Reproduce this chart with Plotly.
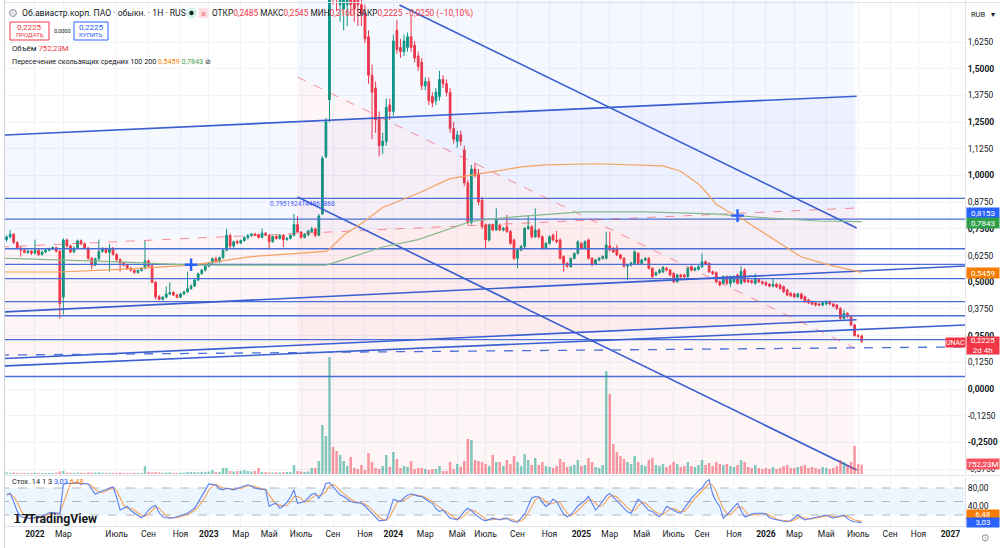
import pandas as pd
import plotly.graph_objects as go

FONT = "Roboto, 'Noto Sans', sans-serif"
TXT = "#131722"
UP = "#089981"
DN = "#f23645"
BLUE = "#2962ff"
ORANGE = "#f57c00"
GREEN = "#43a047"
LINE_BLUE = "#3a5fd0"

# ---------------- data (weekly bars) ----------------
first_week = "2021-11-08"
n_calendar_weeks = 245
closed_weeks = ["2022-02-28", "2022-03-07", "2022-03-14"]   # exchange closed, no bars

opens = [
    0.700, 0.712, 0.725, 0.686, 0.660, 0.650, 0.640, 0.646, 0.636, 0.650,
    0.630, 0.642, 0.650, 0.656, 0.662, 0.645, 0.430, 0.698, 0.670, 0.642,
    0.660, 0.694, 0.680, 0.660, 0.612, 0.580, 0.610, 0.645, 0.658, 0.640,
    0.660, 0.630, 0.606, 0.590, 0.580, 0.566, 0.556, 0.546, 0.555, 0.566,
    0.600, 0.576, 0.500, 0.432, 0.420, 0.430, 0.445, 0.452, 0.440, 0.430,
    0.445, 0.455, 0.470, 0.482, 0.510, 0.540, 0.557, 0.575, 0.590, 0.610,
    0.596, 0.615, 0.650, 0.720, 0.670, 0.690, 0.684, 0.695, 0.710, 0.720,
    0.726, 0.722, 0.710, 0.730, 0.720, 0.690, 0.715, 0.705, 0.720,
    0.700, 0.706, 0.720, 0.770, 0.735, 0.710, 0.722, 0.738, 0.750, 0.720,
    0.820, 1.088, 1.354, 2.100, 1.900, 1.800, 1.780, 1.800, 1.860, 1.840,
    1.880, 1.800, 1.760, 1.650, 1.470, 1.410, 1.270, 1.140, 1.160, 1.330,
    1.300, 1.680, 1.600, 1.580, 1.600, 1.650, 1.610, 1.560, 1.530, 1.420,
    1.440, 1.370, 1.350, 1.370, 1.450, 1.430, 1.390, 1.220, 1.160, 1.190,
    1.120, 0.965, 0.780, 1.030, 1.010, 0.885, 0.768, 0.698, 0.768, 0.745,
    0.767, 0.745, 0.760, 0.737, 0.698, 0.612, 0.651, 0.667, 0.752, 0.760,
    0.713, 0.745, 0.713, 0.659, 0.682, 0.721, 0.698, 0.698, 0.620, 0.588,
    0.573, 0.612, 0.635, 0.682, 0.659, 0.698, 0.612, 0.585, 0.604, 0.612,
    0.612, 0.670, 0.659, 0.660, 0.628, 0.612, 0.575, 0.580, 0.588, 0.635,
    0.588, 0.604, 0.612, 0.565, 0.534, 0.545, 0.549, 0.565, 0.557, 0.541,
    0.502, 0.534, 0.534, 0.526, 0.573, 0.557, 0.561, 0.573, 0.596, 0.588,
    0.549, 0.545, 0.502, 0.495, 0.526, 0.495, 0.502, 0.534, 0.495, 0.557,
    0.510, 0.507, 0.495, 0.514, 0.502, 0.499, 0.490, 0.482, 0.490,
    0.487, 0.479, 0.464, 0.448, 0.445, 0.432, 0.445, 0.432, 0.417, 0.409,
    0.404, 0.398, 0.393, 0.398, 0.409, 0.398, 0.393, 0.377, 0.331, 0.354,
    0.339, 0.300, 0.250, 0.2485,
]
highs = [
    0.720, 0.745, 0.730, 0.692, 0.668, 0.658, 0.652, 0.650, 0.700, 0.655,
    0.648, 0.656, 0.662, 0.668, 0.666, 0.650, 0.705, 0.705, 0.676, 0.668,
    0.700, 0.700, 0.686, 0.664, 0.618, 0.615, 0.700, 0.665, 0.662, 0.680,
    0.664, 0.636, 0.612, 0.596, 0.586, 0.572, 0.560, 0.560, 0.570, 0.695,
    0.606, 0.580, 0.505, 0.440, 0.436, 0.480, 0.500, 0.458, 0.446, 0.450,
    0.460, 0.550, 0.490, 0.515, 0.545, 0.562, 0.580, 0.595, 0.616, 0.620,
    0.620, 0.655, 0.750, 0.728, 0.695, 0.700, 0.700, 0.715, 0.725, 0.730,
    0.732, 0.728, 0.752, 0.735, 0.724, 0.718, 0.720, 0.725, 0.725,
    0.712, 0.725, 0.820, 0.810, 0.740, 0.730, 0.745, 0.760, 0.756, 0.820,
    1.090, 1.270, 2.150, 2.200, 1.980, 1.950, 1.900, 1.920, 1.950, 1.920,
    1.950, 1.860, 1.800, 1.680, 1.520, 1.440, 1.300, 1.200, 1.360, 1.360,
    1.660, 1.730, 1.640, 1.660, 1.670, 1.750, 1.630, 1.580, 1.550, 1.460,
    1.460, 1.390, 1.410, 1.490, 1.470, 1.450, 1.410, 1.250, 1.210, 1.210,
    1.140, 0.980, 1.050, 1.060, 1.030, 0.900, 0.775, 0.775, 0.775, 0.846,
    0.775, 0.760, 0.815, 0.745, 0.705, 0.660, 0.675, 0.760, 0.815, 0.768,
    0.846, 0.752, 0.720, 0.690, 0.720, 0.728, 0.740, 0.705, 0.626, 0.594,
    0.616, 0.640, 0.696, 0.688, 0.696, 0.704, 0.618, 0.610, 0.618, 0.626,
    0.737, 0.737, 0.665, 0.675, 0.634, 0.618, 0.586, 0.596, 0.650, 0.641,
    0.610, 0.618, 0.618, 0.571, 0.551, 0.563, 0.576, 0.571, 0.563, 0.547,
    0.540, 0.540, 0.540, 0.571, 0.579, 0.571, 0.579, 0.635, 0.602, 0.594,
    0.555, 0.551, 0.508, 0.532, 0.532, 0.532, 0.532, 0.540, 0.575, 0.565,
    0.516, 0.513, 0.541, 0.520, 0.508, 0.505, 0.496, 0.518, 0.496,
    0.493, 0.485, 0.470, 0.454, 0.451, 0.451, 0.451, 0.438, 0.423, 0.415,
    0.410, 0.404, 0.410, 0.415, 0.415, 0.404, 0.399, 0.383, 0.370, 0.360,
    0.345, 0.305, 0.258, 0.2545,
]
lows = [
    0.690, 0.705, 0.680, 0.655, 0.620, 0.635, 0.632, 0.628, 0.630, 0.622,
    0.625, 0.636, 0.644, 0.650, 0.640, 0.330, 0.350, 0.662, 0.635, 0.636,
    0.655, 0.675, 0.655, 0.605, 0.560, 0.575, 0.600, 0.638, 0.634, 0.550,
    0.625, 0.600, 0.550, 0.574, 0.560, 0.550, 0.540, 0.540, 0.550, 0.560,
    0.570, 0.495, 0.420, 0.415, 0.415, 0.425, 0.440, 0.436, 0.425, 0.426,
    0.440, 0.450, 0.465, 0.478, 0.505, 0.535, 0.550, 0.570, 0.585, 0.590,
    0.590, 0.610, 0.645, 0.660, 0.660, 0.678, 0.678, 0.690, 0.700, 0.712,
    0.716, 0.705, 0.706, 0.716, 0.660, 0.685, 0.700, 0.700, 0.665,
    0.695, 0.700, 0.715, 0.730, 0.705, 0.705, 0.716, 0.732, 0.710, 0.715,
    0.815, 1.080, 1.250, 1.800, 1.770, 1.720, 1.680, 1.700, 1.750, 1.720,
    1.700, 1.700, 1.620, 1.430, 1.170, 1.200, 1.090, 1.100, 1.140, 1.260,
    1.280, 1.570, 1.550, 1.560, 1.580, 1.580, 1.530, 1.490, 1.400, 1.400,
    1.330, 1.320, 1.330, 1.350, 1.410, 1.370, 1.200, 1.150, 1.130, 1.140,
    0.950, 0.770, 0.770, 0.990, 0.860, 0.750, 0.660, 0.690, 0.740, 0.740,
    0.740, 0.738, 0.732, 0.676, 0.605, 0.565, 0.645, 0.660, 0.745, 0.705,
    0.708, 0.705, 0.652, 0.654, 0.676, 0.692, 0.684, 0.606, 0.549, 0.568,
    0.568, 0.606, 0.630, 0.652, 0.654, 0.606, 0.575, 0.580, 0.598, 0.606,
    0.606, 0.645, 0.637, 0.622, 0.606, 0.569, 0.510, 0.574, 0.582, 0.582,
    0.582, 0.598, 0.559, 0.520, 0.528, 0.539, 0.543, 0.551, 0.528, 0.496,
    0.496, 0.520, 0.520, 0.520, 0.551, 0.551, 0.555, 0.567, 0.579, 0.543,
    0.535, 0.496, 0.481, 0.489, 0.489, 0.479, 0.496, 0.489, 0.489, 0.496,
    0.496, 0.493, 0.489, 0.496, 0.489, 0.481, 0.476, 0.476, 0.473,
    0.465, 0.450, 0.434, 0.431, 0.426, 0.426, 0.418, 0.403, 0.398, 0.392,
    0.387, 0.387, 0.387, 0.392, 0.392, 0.382, 0.371, 0.325, 0.325, 0.333,
    0.294, 0.245, 0.240, 0.2160,
]
closes = [
    0.712, 0.725, 0.686, 0.660, 0.650, 0.640, 0.646, 0.636, 0.650, 0.630,
    0.642, 0.650, 0.656, 0.662, 0.645, 0.400, 0.698, 0.670, 0.642, 0.660,
    0.694, 0.680, 0.660, 0.612, 0.580, 0.610, 0.645, 0.658, 0.640, 0.660,
    0.630, 0.606, 0.590, 0.580, 0.566, 0.556, 0.546, 0.555, 0.566, 0.600,
    0.576, 0.500, 0.432, 0.420, 0.430, 0.445, 0.452, 0.440, 0.430, 0.445,
    0.455, 0.470, 0.482, 0.510, 0.540, 0.557, 0.575, 0.590, 0.610, 0.596,
    0.615, 0.650, 0.720, 0.670, 0.690, 0.684, 0.695, 0.710, 0.720, 0.726,
    0.722, 0.710, 0.730, 0.720, 0.690, 0.715, 0.705, 0.720, 0.700,
    0.706, 0.720, 0.770, 0.735, 0.710, 0.725, 0.740, 0.750, 0.720, 0.810,
    1.080, 1.252, 2.100, 1.900, 1.850, 1.880, 1.840, 1.860, 1.800, 1.780,
    1.800, 1.760, 1.640, 1.470, 1.390, 1.260, 1.140, 1.160, 1.320, 1.300,
    1.630, 1.590, 1.580, 1.630, 1.650, 1.600, 1.550, 1.510, 1.420, 1.440,
    1.350, 1.340, 1.390, 1.450, 1.430, 1.390, 1.220, 1.170, 1.190, 1.160,
    0.965, 0.780, 1.030, 1.000, 0.876, 0.760, 0.698, 0.768, 0.745, 0.790,
    0.745, 0.752, 0.737, 0.682, 0.612, 0.651, 0.667, 0.752, 0.760, 0.713,
    0.745, 0.713, 0.659, 0.682, 0.713, 0.698, 0.690, 0.612, 0.588, 0.575,
    0.612, 0.635, 0.690, 0.659, 0.690, 0.612, 0.581, 0.604, 0.612, 0.620,
    0.675, 0.651, 0.643, 0.628, 0.612, 0.575, 0.580, 0.590, 0.643, 0.588,
    0.604, 0.612, 0.565, 0.526, 0.545, 0.557, 0.570, 0.557, 0.534, 0.502,
    0.534, 0.526, 0.526, 0.565, 0.557, 0.565, 0.573, 0.596, 0.585, 0.549,
    0.541, 0.502, 0.487, 0.526, 0.495, 0.526, 0.526, 0.495, 0.550, 0.502,
    0.502, 0.499, 0.518, 0.502, 0.495, 0.487, 0.482, 0.490, 0.479,
    0.471, 0.456, 0.440, 0.437, 0.432, 0.445, 0.424, 0.409, 0.404, 0.398,
    0.393, 0.393, 0.404, 0.409, 0.398, 0.388, 0.377, 0.331, 0.354, 0.339,
    0.300, 0.250, 0.2475, 0.2225,
]
volumes_m = [
    120, 96, 120, 80, 80, 96, 80, 80, 120, 80,
    80, 80, 80, 80, 120, 200, 240, 120, 100, 90,
    110, 90, 80, 130, 110, 120, 140, 100, 90, 100,
    80, 90, 110, 80, 70, 80, 90, 100, 80, 640,
    150, 130, 160, 120, 100, 110, 130, 90, 80, 100,
    110, 160, 170, 150, 140, 170, 180, 200, 320, 160,
    170, 480, 480, 240, 200, 240, 260, 320, 240, 200,
    240, 480, 160, 150, 130, 120, 140, 130, 150,
    160, 160, 720, 240, 200, 160, 200, 480, 480, 1040,
    3920, 3040, 9360, 2160, 1840, 1520, 1040, 640, 1360, 480,
    400, 720, 320, 1680, 960, 480, 400, 640, 1520, 560,
    1760, 1200, 480, 640, 560, 1040, 400, 480, 480, 400,
    320, 400, 400, 640, 240, 240, 960, 400, 800, 560,
    1040, 2800, 2720, 1120, 1040, 960, 800, 640, 1520, 960,
    960, 640, 1120, 800, 1440, 960, 640, 1600, 1120, 720,
    1280, 720, 960, 640, 560, 480, 640, 1200, 960, 560,
    640, 720, 1120, 640, 720, 1280, 960, 560, 480, 720,
    8240, 6400, 2400, 1760, 1440, 1200, 960, 800, 1440, 960,
    720, 640, 1120, 1280, 720, 640, 800, 560, 720, 960,
    800, 560, 640, 960, 640, 560, 720, 1120, 720, 880,
    640, 960, 800, 720, 800, 640, 560, 720, 1120, 960,
    560, 480, 720, 480, 400, 480, 400, 560, 400,
    480, 640, 720, 480, 480, 560, 640, 720, 480, 560,
    480, 400, 560, 480, 400, 480, 640, 1120, 960, 720,
    960, 2240, 800, 752.23,
]
stoch_k = [
    66, 68, 50, 28, 16, 14, 13, 12, 15, 14,
    18, 22, 25, 26, 24, 22, 88, 91, 90, 91,
    92, 88, 90, 89, 76, 66, 70, 74, 76, 80,
    83, 60, 31, 35, 39, 30, 24, 18, 14, 20,
    31, 38, 41, 25, 16, 14, 13, 14, 16, 18,
    21, 24, 30, 35, 48, 61, 75, 89, 88, 86,
    78, 76, 80, 78, 76, 79, 82, 85, 87, 84,
    80, 78, 77, 76, 39, 44, 46, 35, 40,
    48, 60, 76, 46, 48, 50, 58, 66, 68, 57,
    70, 90, 92, 83, 75, 65, 61, 55, 50, 48,
    47, 46, 40, 32, 24, 14, 7, 8, 9, 30,
    55, 52, 50, 58, 64, 67, 64, 62, 61, 55,
    50, 46, 34, 28, 31, 22, 13, 11, 9, 18,
    28, 35, 30, 22, 16, 10, 7, 10, 13, 11,
    9, 12, 13, 8, 5, 4, 12, 22, 40, 58,
    61, 60, 48, 39, 45, 55, 50, 35, 22, 16,
    20, 30, 40, 46, 52, 61, 45, 31, 40, 52,
    62, 68, 60, 52, 45, 35, 27, 24, 40, 55,
    48, 38, 30, 28, 22, 16, 25, 39, 35, 30,
    26, 24, 35, 48, 57, 65, 74, 80, 92, 99,
    66, 50, 39, 13, 20, 28, 38, 46, 30, 16,
    18, 22, 24, 24, 24, 22, 14, 11, 9,
    8, 6, 5, 8, 14, 20, 14, 9, 11, 13,
    15, 16, 18, 20, 16, 13, 16, 18, 20, 12,
    7, 5, 4, 3.03,
]
stoch_d = [
    64, 66, 61, 49, 31, 19, 14, 13, 13, 14,
    16, 18, 22, 24, 25, 24, 45, 67, 90, 91,
    91, 90, 90, 89, 85, 77, 71, 70, 73, 77,
    80, 74, 58, 42, 35, 35, 31, 24, 19, 17,
    22, 30, 37, 35, 27, 18, 14, 14, 14, 16,
    18, 21, 25, 30, 38, 48, 61, 75, 84, 88,
    84, 80, 78, 78, 78, 78, 79, 82, 85, 85,
    84, 80, 78, 77, 64, 53, 43, 42, 40,
    41, 49, 61, 61, 57, 48, 52, 58, 64, 64,
    65, 72, 84, 88, 83, 74, 67, 60, 55, 51,
    48, 47, 44, 39, 32, 23, 15, 10, 8, 16,
    31, 46, 52, 53, 57, 63, 65, 64, 62, 59,
    55, 50, 43, 36, 31, 27, 22, 15, 11, 13,
    18, 27, 31, 29, 23, 16, 11, 9, 10, 11,
    11, 11, 11, 11, 9, 6, 7, 13, 25, 40,
    53, 60, 56, 49, 44, 46, 50, 47, 36, 24,
    19, 22, 30, 39, 46, 53, 53, 46, 39, 41,
    51, 61, 63, 60, 52, 44, 36, 29, 30, 40,
    48, 47, 39, 32, 27, 22, 21, 27, 33, 35,
    30, 27, 28, 36, 47, 57, 65, 73, 82, 90,
    86, 72, 52, 34, 24, 20, 29, 37, 38, 31,
    21, 19, 21, 23, 24, 23, 19, 14, 11,
    9, 8, 6, 6, 9, 14, 16, 14, 11, 11,
    13, 15, 16, 18, 18, 16, 15, 16, 18, 17,
    13, 9, 7.5, 6.48,
]

# moving averages (MA cross 100/200), read at selected bars
ma100_start = 0.548
ma100_idx = [15, 32, 52, 69, 83, 90, 91, 95, 100, 106, 116, 125, 134, 145, 152, 166,
             185, 190, 195, 197, 200, 203, 206, 215, 224, 232, 241]
ma100_val = [0.548, 0.560, 0.580, 0.620, 0.635, 0.645, 0.655, 0.720, 0.775, 0.850, 0.917,
             0.985, 1.010, 1.040, 1.050, 1.055, 1.045, 1.020, 0.960, 0.925, 0.865, 0.835,
             0.810, 0.712, 0.618, 0.580, 0.5459]
ma200_start = 0.613
ma200_idx = [15, 32, 52, 69, 90, 91, 106, 116, 130, 133, 143, 162, 180, 199, 204, 206,
             215, 229, 241]
ma200_val = [0.605, 0.595, 0.580, 0.580, 0.580, 0.585, 0.665, 0.700, 0.780, 0.790, 0.806,
             0.830, 0.830, 0.820, 0.815, 0.812, 0.800, 0.787, 0.7843]
cross_idx = [52, 206]
cross_val = [0.582, 0.812]

# drawings (time / price anchors)
view_start = "2021-10-26"
view_end = "2027-02-01 19:00"
h_levels = [0.893, 0.7952, 0.657, 0.584, 0.517, 0.409, 0.343, 0.231, 0.0585]
reg1_dates = ["2021-10-26", "2026-07-03"]
reg1_base = [0.665, 0.848]
reg1_dev = 0.5235
reg2_dates = ["2023-06-26", "2026-06-29"]
reg2_base = [1.461, 0.192]
diag_up_dates = ["2024-01-13", "2026-07-03"]
diag_up_vals = [1.799, 0.754]
diag_lo_dates = ["2023-06-26", "2026-07-03"]
diag_lo_vals = [0.899, -0.379]
ray1_vals = [0.360, 0.576]
ray2_vals = [0.107, 0.300]
dash_ray_vals = [0.159, 0.197]

tick_dates = ["2022-01-03", "2022-03-21", "2022-07-04", "2022-09-05", "2022-11-07",
              "2023-01-02", "2023-03-06", "2023-05-01", "2023-07-03", "2023-09-04", "2023-11-06",
              "2024-01-01", "2024-03-04", "2024-05-06", "2024-07-01", "2024-09-02", "2024-11-04",
              "2025-01-06", "2025-03-03", "2025-05-05", "2025-07-07", "2025-09-01", "2025-11-03",
              "2026-01-05", "2026-03-02", "2026-05-04", "2026-07-06", "2026-09-07", "2026-11-02",
              "2027-01-04"]
tick_labels = ["2022", "Мар", "Июль", "Сен", "Ноя", "2023", "Мар", "Май", "Июль", "Сен", "Ноя",
               "2024", "Мар", "Май", "Июль", "Сен", "Ноя", "2025", "Мар", "Май", "Июль", "Сен",
               "Ноя", "2026", "Мар", "Май", "Июль", "Сен", "Ноя", "2027"]
price_ticks = [-0.375, -0.25, -0.125, 0.0, 0.125, 0.25, 0.375, 0.5, 0.625, 0.75, 0.875,
               1.0, 1.125, 1.25, 1.375, 1.5, 1.625]

# ---------------- build ----------------
all_weeks = pd.date_range(first_week, periods=n_calendar_weeks, freq="7D")
dates = [d for d in all_weeks if d.strftime("%Y-%m-%d") not in closed_weeks]
n = len(dates)
for arr in (opens, highs, lows, closes, volumes_m, stoch_k, stoch_d):
    assert len(arr) == n, (len(arr), n)

W, H = 1000, 548
PW, PH = 965, 526
Y0_PX, PX_PER_UNIT = 389.0, 213.5
main_dom = [(PH - 474) / PH, 1.0]
stoch_dom = [0.0, (PH - 477) / PH]
price_rng = [(Y0_PX - 474) / PX_PER_UNIT, Y0_PX / PX_PER_UNIT]
stoch_rng = [(524 - 526) / 0.45, (524 - 477) / 0.45]
vol_rng = [0, 474 * 80]

def sx(px):
    return px / PW

def sy(py):
    return (PH - py) / PH

fig = go.Figure()

def poly(xs, ys, color):
    fig.add_trace(go.Scatter(x=xs, y=ys, fill="toself", fillcolor=color, mode="lines",
                             line=dict(width=0), hoverinfo="skip", xaxis="x", yaxis="y"))

def seg(xs, ys, color, width=1.5, dash=None):
    fig.add_trace(go.Scatter(x=xs, y=ys, mode="lines", hoverinfo="skip",
                             line=dict(color=color, width=width, dash=dash), xaxis="x", yaxis="y"))

BLUE_FILL = "rgba(41,98,255,0.045)"
PINK_FILL = "rgba(242,54,69,0.05)"
top_v, bot_v = 1.95, -0.5

# regression 2 fills (blue above base, pink below)
poly([reg2_dates[0], reg2_dates[1], reg2_dates[1], reg2_dates[0]],
     [reg2_base[0], reg2_base[1], top_v, top_v], BLUE_FILL)
poly([reg2_dates[0], reg2_dates[1], reg2_dates[1], reg2_dates[0]],
     [reg2_base[0], reg2_base[1], bot_v, bot_v], PINK_FILL)
# regression 1 fills
poly([reg1_dates[0], reg1_dates[1], reg1_dates[1], reg1_dates[0]],
     [reg1_base[0], reg1_base[1], reg1_base[1] + reg1_dev, reg1_base[0] + reg1_dev], BLUE_FILL)
poly([reg1_dates[0], reg1_dates[1], reg1_dates[1], reg1_dates[0]],
     [reg1_base[0], reg1_base[1], reg1_base[1] - reg1_dev, reg1_base[0] - reg1_dev], PINK_FILL)

# horizontal levels
for lv in h_levels:
    seg([view_start, view_end], [lv, lv], "#4a6fd8", 1.3)

# regression lines
seg(reg1_dates, [v + reg1_dev for v in reg1_base], LINE_BLUE, 1.6)
seg(reg1_dates, [v - reg1_dev for v in reg1_base], LINE_BLUE, 1.6)
seg(reg1_dates, reg1_base, "rgba(242,54,69,0.55)", 1, "dash")
seg(reg2_dates, reg2_base, "rgba(242,54,69,0.55)", 1, "dash")

# trend lines
seg(diag_up_dates, diag_up_vals, LINE_BLUE, 1.6)
seg(diag_lo_dates, diag_lo_vals, LINE_BLUE, 1.6)
seg([view_start, view_end], ray1_vals, LINE_BLUE, 1.6)
seg([view_start, view_end], ray2_vals, LINE_BLUE, 1.6)
seg([view_start, view_end], dash_ray_vals, "#4a6fd8", 1.3, "dash")

# moving averages
seg([view_start] + [dates[i] for i in ma100_idx], [ma100_start] + ma100_val, "#f4a261", 1.2)
seg([view_start] + [dates[i] for i in ma200_idx], [ma200_start] + ma200_val, "#85b98a", 1.2)

# candles
fig.add_trace(go.Candlestick(
    x=dates, open=opens, high=highs, low=lows, close=closes,
    increasing=dict(line=dict(color=UP, width=1), fillcolor=UP),
    decreasing=dict(line=dict(color=DN, width=1), fillcolor=DN),
    whiskerwidth=0, hoverinfo="skip", xaxis="x", yaxis="y"))

fig.add_trace(go.Scatter(x=[dates[i] for i in cross_idx], y=cross_val, mode="markers",
                         marker=dict(symbol="cross-thin", size=9, line=dict(width=2.4, color=BLUE)),
                         hoverinfo="skip", xaxis="x", yaxis="y"))

# volume
vol_colors = ["rgba(8,153,129,0.5)" if c >= o else "rgba(242,54,69,0.5)" for o, c in zip(opens, closes)]
fig.add_trace(go.Bar(x=dates, y=volumes_m, marker=dict(color=vol_colors, line=dict(width=0)),
                     hoverinfo="skip", xaxis="x", yaxis="y3"))

# stochastic
fig.add_trace(go.Scatter(x=dates, y=stoch_d, mode="lines", line=dict(color="#f7a35c", width=1.1),
                         hoverinfo="skip", xaxis="x2", yaxis="y2"))
fig.add_trace(go.Scatter(x=dates, y=stoch_k, mode="lines", line=dict(color="#5b7ff0", width=1.1),
                         hoverinfo="skip", xaxis="x2", yaxis="y2"))

# ---------------- layout ----------------
def fmt_price(v):
    s = f"{abs(v):.4f}".replace(".", ",")
    s = ("-" if v < 0 else "") + s
    return f"<b>{s}</b>" if abs(v / 0.25 - round(v / 0.25)) < 1e-9 else s

price_text = [fmt_price(v) for v in price_ticks]
time_text = [f"<b>{t}</b>" if t.isdigit() else t for t in tick_labels]

GRID = "#f0f3fa"
breaks = [dict(bounds=[closed_weeks[0], "2022-03-21"])]
xcommon = dict(type="date", range=[view_start, view_end], rangebreaks=breaks,
               showgrid=True, gridcolor=GRID, gridwidth=1, tickvals=tick_dates,
               zeroline=False, fixedrange=True)

fig.update_layout(
    width=W, height=H, autosize=False,
    margin=dict(l=0, r=35, t=0, b=22),
    paper_bgcolor="white", plot_bgcolor="white",
    showlegend=False, hovermode=False, bargap=0.3,
    font=dict(family=FONT, size=9, color=TXT),
    xaxis=dict(domain=[0, 1], anchor="y", showticklabels=False,
               rangeslider=dict(visible=False), **xcommon),
    xaxis2=dict(domain=[0, 1], anchor="y2", matches="x", ticktext=time_text,
                tickfont=dict(size=8.5, color=TXT), ticks="", showline=True,
                linecolor="#e0e3eb", linewidth=1, **xcommon),
    yaxis=dict(domain=main_dom, anchor="x", side="right", range=price_rng,
               tickvals=price_ticks, ticktext=price_text, tickfont=dict(size=8.5, color=TXT),
               showgrid=True, gridcolor=GRID, zeroline=False, showline=True,
               linecolor="#e0e3eb", ticks="", fixedrange=True),
    yaxis2=dict(domain=stoch_dom, anchor="x2", side="right", range=stoch_rng,
                tickvals=[40, 80], ticktext=["40,00", "80,00"], tickfont=dict(size=8.5, color=TXT),
                showgrid=False, zeroline=False, showline=True, linecolor="#e0e3eb",
                ticks="", fixedrange=True),
    yaxis3=dict(overlaying="y", anchor="x", side="right", range=vol_rng, visible=False,
                fixedrange=True),
)

shapes = []
# stochastic band and levels
shapes.append(dict(type="rect", xref="paper", yref="y2", x0=0, x1=1, y0=20, y1=80,
                   fillcolor="rgba(33,150,243,0.09)", line=dict(width=0), layer="below"))
for lv in (80, 50, 20):
    shapes.append(dict(type="line", xref="paper", yref="y2", x0=0, x1=1, y0=lv, y1=lv,
                       line=dict(color="#b2b5be", width=1, dash="dash"), layer="below"))
# pane separator
shapes.append(dict(type="line", xref="paper", yref="paper", x0=0, x1=W / PW, y0=sy(475.5),
                   y1=sy(475.5), line=dict(color="#e0e3eb", width=1.2)))
# outer frame
shapes.append(dict(type="rect", xref="paper", yref="paper", x0=sx(0), x1=sx(4), y0=sy(PH + 22),
                   y1=sy(0), fillcolor="white", line=dict(width=0), layer="above"))
shapes.append(dict(type="line", xref="paper", yref="paper", x0=sx(4.5), x1=sx(4.5), y0=sy(548),
                   y1=sy(0), line=dict(color="#d1d4dc", width=1)))
shapes.append(dict(type="line", xref="paper", yref="paper", x0=sx(4.5), x1=W / PW, y0=sy(2.5),
                   y1=sy(2.5), line=dict(color="#e0e3eb", width=1)))
# header buttons
shapes.append(dict(type="rect", xref="paper", yref="paper", x0=sx(10), x1=sx(49), y0=sy(40),
                   y1=sy(22), fillcolor="white", line=dict(color=DN, width=1)))
shapes.append(dict(type="rect", xref="paper", yref="paper", x0=sx(74), x1=sx(108), y0=sy(40),
                   y1=sy(22), fillcolor="white", line=dict(color=BLUE, width=1)))
# header status icons
shapes.append(dict(type="circle", xref="paper", yref="paper", x0=sx(186), x1=sx(197), y0=sy(18.5),
                   y1=sy(7.5), fillcolor="#d6f2ea", line=dict(width=0)))
shapes.append(dict(type="circle", xref="paper", yref="paper", x0=sx(189.3), x1=sx(193.7),
                   y0=sy(15.2), y1=sy(10.8), fillcolor="#0b2b23", line=dict(width=0)))
shapes.append(dict(type="rect", xref="paper", yref="paper", x0=sx(198.5), x1=sx(208.5), y0=sy(18),
                   y1=sy(8), fillcolor="#fcdde0", line=dict(width=0)))
shapes.append(dict(type="circle", xref="paper", yref="paper", x0=sx(9.5), x1=sx(16.5), y0=sy(16.5),
                   y1=sy(9.5), fillcolor="#e6e7ea", line=dict(color="#9598a1", width=1)))
fig.update_layout(shapes=shapes)

ann = []

def text(px, py, t, size=9, color=TXT, xanchor="left", **kw):
    ann.append(dict(x=sx(px), y=sy(py), xref="paper", yref="paper", text=t, showarrow=False,
                    xanchor=xanchor, yanchor="middle", font=dict(size=size, color=color, family=FONT),
                    **kw))

def box(px, py, t, bg, w=32, h=10, size=8, xanchor="left"):
    ann.append(dict(x=sx(px), y=sy(py), xref="paper", yref="paper", text=t, showarrow=False,
                    xanchor=xanchor, yanchor="middle", width=w, height=h, bgcolor=bg, borderpad=0,
                    align="center", font=dict(size=size, color="white", family=FONT)))

R = f"style='color:{DN}'"
text(20, 13.5, "Об.авиастр.корп. ПАО · обыкн. · 1Н · RUS", 8.6)
text(203.5, 13, "≋", 6, DN, xanchor="center")
text(210, 13.5, f"ОТКР<span {R}>0,2485</span> МАКС<span {R}>0,2545</span> "
     f"МИН<span {R}>0,2160</span> ЗАКР<span {R}>0,2225</span> <span {R}>−0,0250 (−10,10%)</span>", 8.3)
text(29.5, 27.5, "0,2225", 8, DN, xanchor="center")
text(29.5, 35, "ПРОДАТЬ", 6, DN, xanchor="center")
text(62, 31, "0,0000", 5.5, TXT, xanchor="center")
text(91, 27.5, "0,2225", 8, BLUE, xanchor="center")
text(91, 35, "КУПИТЬ", 6, BLUE, xanchor="center")
text(10, 49, f"Объём <span {R}>752,23M</span>", 7.8)
text(10, 61.5, "Пересечение скользящих средних 100 200 "
     f"<span style='color:{ORANGE}'>0,5459</span> <span style='color:{GREEN}'>0,7843</span> ⊘", 7.2)
text(10, 481.5, f"Стох. 14 1 3 <span style='color:{BLUE}'>3,03</span> "
     f"<span style='color:{ORANGE}'>6,48</span>", 7.4)
text(11, 519, "<b>𝟭𝟳</b>", 12, "#131722")
text(26, 519, "<b>TradingView</b>", 12.3, "#131722")
text(268, 204, "0.7951924144862868", 6.6, "#3d5afe")
text(969, 14, "RUB", 7.5)
text(993, 14, "▾", 7.5, TXT, xanchor="center")
text(985, 537, "⊙", 10, "#787b86", xanchor="center")

box(966, 213, "0,8153", BLUE)
box(966, 222.5, "0,7843", "#2e9e48")
box(966, 272.5, "0,5459", ORANGE)
box(966, 345.5, "0,2225<br>2d 4h", DN, h=17)
box(945, 342.5, "UNAC", DN, w=19, h=9, size=7)
box(966, 464, "752,23M", "#f7525f")
box(966, 514, "6,48", ORANGE, h=8.5)
box(966, 522, "3,03", BLUE, h=8.5)
fig.update_layout(annotations=ann)

fig.write_html("out.html", config={"displayModeBar": False, "staticPlot": True})
